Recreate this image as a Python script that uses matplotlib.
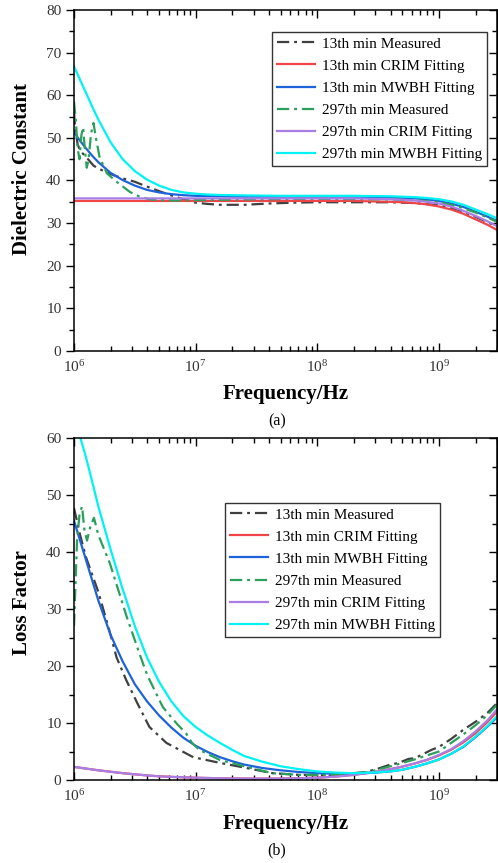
import matplotlib
matplotlib.use("Agg")
import matplotlib.pyplot as plt
from matplotlib.ticker import LogLocator, MultipleLocator, NullFormatter

# shared grid (log10 of frequency) for the fitted curves
FIT_LOGF = [6.0, 6.05, 6.1, 6.15, 6.2, 6.3, 6.4, 6.5, 6.6, 6.7, 6.8, 6.9, 7.0,
            7.1, 7.2, 7.3, 7.4, 7.55, 7.7, 7.85, 8.0, 8.15, 8.3, 8.45, 8.6, 8.7,
            8.8, 8.9, 9.0, 9.1, 9.2, 9.3, 9.4, 9.477]

# (a) dielectric constant
EPS_CRIM_13 = [35.2, 35.2, 35.2, 35.2, 35.2, 35.2, 35.2, 35.2, 35.2, 35.2, 35.2,
               35.2, 35.2, 35.2, 35.2, 35.2, 35.2, 35.2, 35.2, 35.2, 35.2, 35.2,
               35.2, 35.1, 35.0, 34.9, 34.7, 34.4, 33.9, 33.2, 32.2, 30.9, 29.6, 28.4]
EPS_MWBH_13 = [51.3, 49.3, 47.5, 45.8, 44.3, 41.8, 40.1, 38.8, 37.8, 37.2, 36.8,
               36.55, 36.4, 36.35, 36.3, 36.25, 36.2, 36.2, 36.2, 36.2, 36.2, 36.2,
               36.2, 36.15, 36.0, 35.9, 35.8, 35.6, 35.2, 34.6, 33.8, 32.7, 31.5, 30.5]
EPS_CRIM_297 = [35.8, 35.8, 35.8, 35.8, 35.8, 35.8, 35.8, 35.8, 35.8, 35.8, 35.8,
                35.8, 35.8, 35.8, 35.8, 35.8, 35.8, 35.8, 35.8, 35.8, 35.8, 35.8,
                35.8, 35.7, 35.6, 35.5, 35.3, 35.0, 34.6, 33.9, 32.9, 31.7, 30.4, 29.3]
EPS_MWBH_297 = [66.8, 63.6, 60.5, 57.3, 54.3, 49.0, 45.0, 42.2, 40.2, 38.8, 37.8,
                37.2, 36.9, 36.7, 36.6, 36.55, 36.5, 36.45, 36.4, 36.4, 36.4, 36.4,
                36.4, 36.35, 36.3, 36.2, 36.1, 35.9, 35.6, 35.1, 34.3, 33.2, 32.1, 31.1]

EPS_MEAS_13_LOGF = [6.0, 6.01, 6.03, 6.05, 6.1, 6.16, 6.2, 6.3, 6.4, 6.5, 6.57,
                    6.7, 6.8, 6.9, 7.0, 7.1, 7.2, 7.4, 7.6, 7.8, 8.0, 8.3, 8.6,
                    8.8, 9.0, 9.15, 9.3, 9.4, 9.477]
EPS_MEAS_13 = [56.0, 52.0, 48.5, 47.0, 45.5, 43.5, 42.8, 41.5, 40.5, 39.7, 38.9,
               37.5, 36.5, 35.6, 34.8, 34.5, 34.3, 34.3, 34.6, 34.8, 34.9, 34.9,
               34.9, 34.7, 34.2, 33.2, 31.5, 30.2, 29.3]
EPS_MEAS_297_LOGF = [6.0, 6.015, 6.03, 6.045, 6.06, 6.075, 6.09, 6.105, 6.12,
                     6.14, 6.16, 6.18, 6.21, 6.27, 6.35, 6.46, 6.54, 6.62, 6.7,
                     6.85, 7.0, 7.5, 8.0, 8.5, 8.8, 9.0, 9.15, 9.3, 9.4, 9.477]
EPS_MEAS_297 = [58.5, 54.0, 47.5, 45.0, 50.5, 52.5, 47.0, 43.0, 45.0, 51.0, 53.5,
                50.0, 45.5, 41.7, 39.7, 37.3, 36.2, 35.6, 35.4, 35.3, 35.4, 35.6,
                35.7, 35.6, 35.4, 34.9, 34.0, 32.5, 31.3, 30.3]

# (b) loss factor
LOSS_CRIM_13 = [2.3, 2.15, 2.0, 1.85, 1.7, 1.45, 1.2, 1.0, 0.8, 0.65, 0.55, 0.47,
                0.4, 0.35, 0.3, 0.27, 0.25, 0.24, 0.25, 0.3, 0.4, 0.6, 0.9, 1.35,
                1.9, 2.35, 2.9, 3.5, 4.3, 5.3, 6.6, 8.2, 10.2, 12.0]
LOSS_MWBH_13 = [45.5, 42.0, 38.5, 35.0, 31.5, 25.5, 20.8, 16.8, 13.8, 11.3, 9.2,
                7.4, 6.0, 4.9, 4.0, 3.3, 2.7, 2.1, 1.7, 1.4, 1.2, 1.1, 1.1, 1.25,
                1.5, 1.8, 2.3, 2.9, 3.6, 4.6, 5.8, 7.5, 9.4, 11.0]
LOSS_CRIM_297 = [2.3, 2.15, 2.0, 1.85, 1.7, 1.45, 1.2, 1.0, 0.8, 0.65, 0.55, 0.47,
                 0.4, 0.35, 0.3, 0.27, 0.25, 0.24, 0.25, 0.3, 0.4, 0.6, 0.9, 1.35,
                 1.9, 2.35, 2.9, 3.55, 4.4, 5.4, 6.8, 8.5, 10.5, 12.4]
LOSS_MWBH_297 = [64.0, 60.2, 56.5, 52.3, 48.0, 40.5, 33.5, 27.0, 21.5, 17.2, 13.8,
                 11.2, 9.3, 7.8, 6.5, 5.3, 4.2, 3.2, 2.4, 1.9, 1.5, 1.3, 1.2, 1.3,
                 1.5, 1.8, 2.3, 2.9, 3.6, 4.6, 5.9, 7.6, 9.5, 11.2]

LOSS_MEAS_13_LOGF = [6.0, 6.05, 6.1, 6.2, 6.3, 6.35, 6.43, 6.52, 6.62, 6.76, 6.98,
                     7.2, 7.42, 7.63, 7.85, 8.1, 8.4, 8.5, 8.6, 8.67, 8.75, 8.8,
                     8.94, 9.0, 9.1, 9.2, 9.3, 9.4, 9.477]
LOSS_MEAS_13 = [47.7, 43.0, 39.0, 33.0, 25.5, 21.5, 17.5, 13.5, 9.3, 6.5, 4.0,
                3.0, 2.1, 1.2, 0.9, 0.8, 1.4, 2.0, 2.7, 3.0, 3.7, 3.8, 5.3, 5.8,
                7.2, 8.8, 10.2, 11.8, 13.5]
LOSS_MEAS_297_LOGF = [6.0, 6.01, 6.025, 6.045, 6.066, 6.085, 6.107, 6.135, 6.164,
                      6.2, 6.295, 6.434, 6.541, 6.6, 6.73, 6.84, 6.92, 6.97, 7.03,
                      7.2, 7.42, 7.63, 7.85, 8.1, 8.4, 8.6, 8.8, 9.0, 9.2, 9.3,
                      9.4, 9.477]
LOSS_MEAS_297 = [27.0, 33.0, 42.0, 46.5, 48.0, 44.0, 42.0, 44.5, 46.0, 43.0, 38.0,
                 28.6, 22.0, 18.5, 12.8, 10.0, 8.2, 6.5, 5.3, 3.5, 2.3, 1.2, 0.9,
                 0.9, 1.3, 2.4, 3.6, 5.0, 8.0, 9.6, 11.4, 13.2]

LABELS = ["13th min Measured", "13th min CRIM Fitting", "13th min MWBH Fitting",
          "297th min Measured", "297th min CRIM Fitting", "297th min MWBH Fitting"]
COLORS = ["#404040", "#f04548", "#1f63d9", "#2ba05c", "#a97ee4", "#00f2f2"]
DASHDOT = (0, (5.5, 2.2, 1.3, 2.2))

plt.rcParams["font.family"] = ["Liberation Serif", "DejaVu Serif"]
plt.rcParams["mathtext.fontset"] = "stix"


def hz(logf):
    return [10 ** v for v in logf]


def style_axes(ax, ymax, ylabel, ylabel_y):
    ax.set_xscale("log")
    ax.set_xlim(1e6, 3e9)
    ax.set_ylim(0, ymax)
    ax.yaxis.set_major_locator(MultipleLocator(10))
    ax.yaxis.set_minor_locator(MultipleLocator(5))
    ax.xaxis.set_major_locator(LogLocator(base=10, numticks=10))
    ax.xaxis.set_minor_locator(LogLocator(base=10, subs=range(2, 10), numticks=20))
    ax.xaxis.set_minor_formatter(NullFormatter())
    ax.tick_params(axis="x", which="both", direction="in", top=True,
                   labelsize=11, labelcolor="#333333", pad=6)
    ax.tick_params(axis="y", which="both", direction="out",
                   labelsize=11, labelcolor="#333333", pad=3)
    ax.tick_params(which="major", length=6, width=1)
    ax.tick_params(which="minor", length=3.5, width=1)

    right = ax.secondary_yaxis("right")
    right.yaxis.set_major_locator(MultipleLocator(10))
    right.yaxis.set_minor_locator(MultipleLocator(5))
    right.tick_params(which="both", direction="in", labelright=False, width=1)
    right.tick_params(which="major", length=6)
    right.tick_params(which="minor", length=3.5)

    for sp in ax.spines.values():
        sp.set_linewidth(1.1)
    ax.set_xlabel("Frequency/Hz", fontsize=15, fontweight="bold")
    ax.set_ylabel(ylabel, fontsize=15, fontweight="bold")
    ax.xaxis.set_label_coords(0.5, -0.098)
    ax.yaxis.set_label_coords(-0.099, ylabel_y)


def draw_panel(ax, meas13, crim13, mwbh13, meas297, crim297, mwbh297):
    lw = 1.6
    ax.plot(hz(meas13[0]), meas13[1], color=COLORS[0], lw=lw, ls=DASHDOT, label=LABELS[0])
    ax.plot(hz(FIT_LOGF), crim13, color=COLORS[1], lw=lw, label=LABELS[1])
    ax.plot(hz(FIT_LOGF), mwbh13, color=COLORS[2], lw=lw, label=LABELS[2])
    ax.plot(hz(meas297[0]), meas297[1], color=COLORS[3], lw=lw, ls=DASHDOT, label=LABELS[3])
    ax.plot(hz(FIT_LOGF), crim297, color=COLORS[4], lw=lw, label=LABELS[4])
    ax.plot(hz(FIT_LOGF), mwbh297, color=COLORS[5], lw=lw, label=LABELS[5])


def add_legend(ax, anchor):
    leg = ax.legend(loc="upper right", bbox_to_anchor=anchor, fontsize=11,
                    frameon=True, fancybox=False, framealpha=1, edgecolor="#333333",
                    handlelength=2.5, handletextpad=0.45, labelspacing=0.55,
                    borderpad=0.32, borderaxespad=0)
    leg.get_frame().set_linewidth(1.0)


def main() -> None:
    fig = plt.figure(figsize=(4.98, 8.63), dpi=100)
    ax1 = fig.add_axes([74 / 498, 1 - 351 / 863, 423 / 498, 341 / 863])
    ax2 = fig.add_axes([74 / 498, 1 - 780 / 863, 423 / 498, 342 / 863])

    draw_panel(ax1, (EPS_MEAS_13_LOGF, EPS_MEAS_13), EPS_CRIM_13, EPS_MWBH_13,
               (EPS_MEAS_297_LOGF, EPS_MEAS_297), EPS_CRIM_297, EPS_MWBH_297)
    style_axes(ax1, 80, "Dielectric Constant", 0.534)
    add_legend(ax1, (0.976, 0.935))

    draw_panel(ax2, (LOSS_MEAS_13_LOGF, LOSS_MEAS_13), LOSS_CRIM_13, LOSS_MWBH_13,
               (LOSS_MEAS_297_LOGF, LOSS_MEAS_297), LOSS_CRIM_297, LOSS_MWBH_297)
    style_axes(ax2, 60, "Loss Factor", 0.519)
    add_legend(ax2, (0.865, 0.810))

    fig.text(277 / 498, 1 - 421 / 863, "(a)", ha="center", va="center", fontsize=11.5)
    fig.text(277 / 498, 1 - 850 / 863, "(b)", ha="center", va="center", fontsize=11.5)

    fig.savefig("out.png", dpi=100)
    plt.close(fig)


if __name__ == "__main__":
    main()
